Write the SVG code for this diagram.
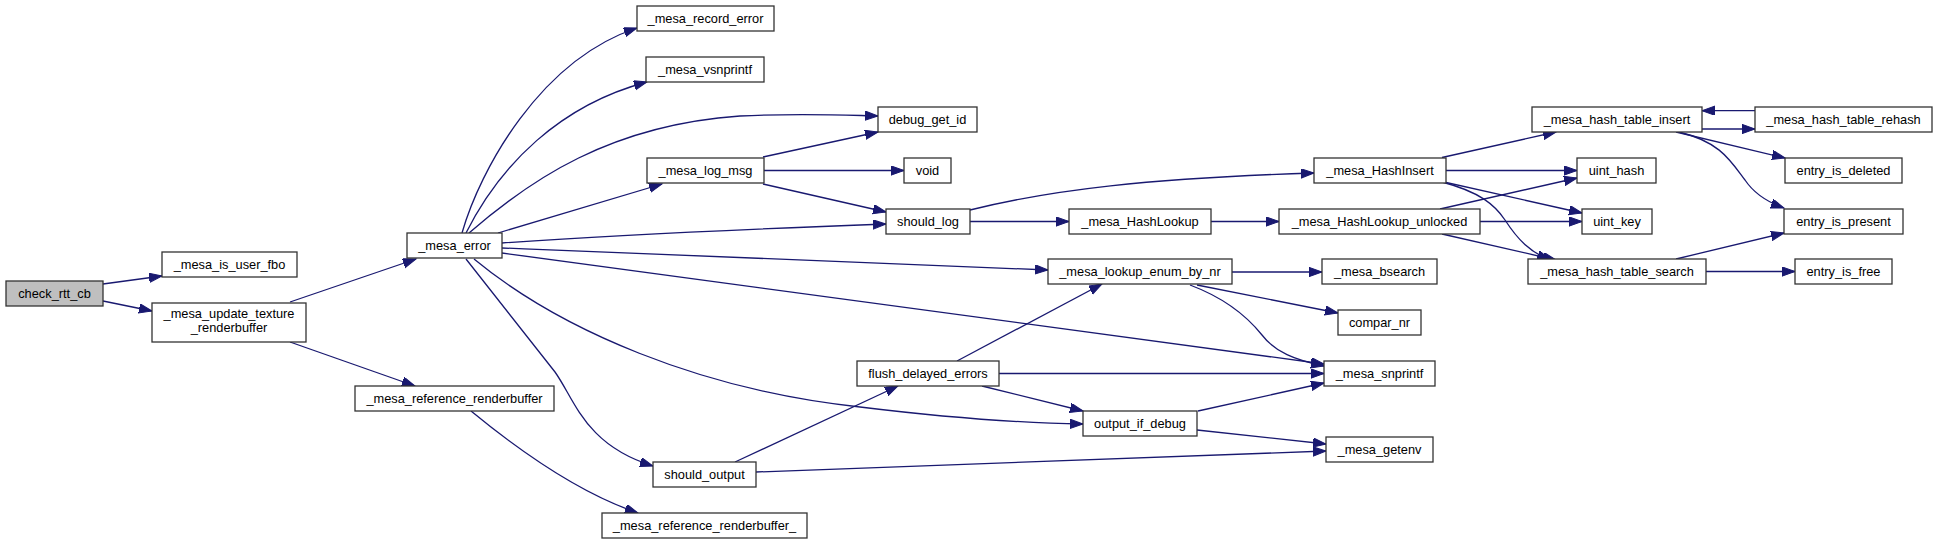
<svg xmlns="http://www.w3.org/2000/svg" width="1939" height="544" viewBox="0 0 1939 544">
<style>
.n rect{fill:#ffffff;stroke:#333333;stroke-width:1.3}
.n.root rect{fill:#bfbfbf}
.n text{font-family:"Liberation Sans",Arial,Helvetica,sans-serif;font-size:12.8px;fill:#000000;text-anchor:middle}
.e path{fill:none;stroke:#191970;stroke-width:1.3;marker-end:url(#arr)}
</style>
<defs>
<marker id="arr" markerUnits="userSpaceOnUse" markerWidth="15" markerHeight="11" refX="13" refY="4.65" orient="auto">
<path d="M0,0 L13,4.65 L0,9.3 Z" fill="#191970" stroke="#191970" stroke-width="1"/>
</marker>
</defs>
<rect width="1939" height="544" fill="#ffffff"/>
<g id="edges" class="e">
<path d="M103,284 L162,276"/>
<path d="M103,301 L152,311"/>
<path d="M290,302 L416,259"/>
<path d="M290,342 L415,386"/>
<path d="M471,411 C505,439 570,490 638,513"/>
<path d="M462,233 C480,170 540,60 637,28"/>
<path d="M466,233 C500,165 560,105 647,82"/>
<path d="M469,233 C530,180 610,125 740,116 C800,113 840,115 878,116"/>
<path d="M498,233 L662,184"/>
<path d="M502,243 C600,236 750,229 886,224"/>
<path d="M502,248 C700,255 900,263 1048,270"/>
<path d="M502,253 L1324,364"/>
<path d="M474,259 C560,330 700,390 860,407 C950,418 1020,423 1083,424"/>
<path d="M466,259 L555,372 C575,400 585,445 653,466"/>
<path d="M763,157 L878,132"/>
<path d="M764,170.5 L904,170.5"/>
<path d="M763,184 L886,212"/>
<path d="M970,210 C1050,190 1150,178 1314,173"/>
<path d="M970,221.5 L1069,221.5"/>
<path d="M1211,221.5 L1279,221.5"/>
<path d="M1440,209 L1577,178"/>
<path d="M1480,221.5 L1582,221.5"/>
<path d="M1442,234 L1556,260"/>
<path d="M1442,157.5 L1556,132"/>
<path d="M1446,170.5 L1577,170.5"/>
<path d="M1444,182 L1582,213"/>
<path d="M1442,182 C1480,192 1495,205 1505,220 C1518,240 1530,252 1550,260"/>
<path d="M1702,129 L1755,129"/>
<path d="M1755,110.7 L1702,110.7"/>
<path d="M1676,132 L1785,158"/>
<path d="M1679,132 C1720,142 1730,160 1745,180 C1755,195 1770,203 1784,208"/>
<path d="M1676,259 L1784,233"/>
<path d="M1706,271.5 L1795,271.5"/>
<path d="M1232,272 L1322,272"/>
<path d="M1197,285 L1338,313"/>
<path d="M1190,285 C1230,300 1250,320 1262,335 C1275,352 1295,360 1324,366"/>
<path d="M957,361 L1102,284"/>
<path d="M999,373.5 L1324,373.5"/>
<path d="M982,386 L1083,411"/>
<path d="M1198,411 L1324,383"/>
<path d="M1197,430 L1326,444"/>
<path d="M735,462 L898,386"/>
<path d="M756,472 L1326,451"/>
</g>
<g id="check_rtt_cb" class="n root"><rect x="6" y="281" width="97" height="25"/><text x="54.5" y="298">check_rtt_cb</text></g>
<g id="mesa_is_user_fbo" class="n"><rect x="162" y="252" width="135" height="25"/><text x="229.5" y="269">_mesa_is_user_fbo</text></g>
<g id="mesa_update_texture_renderbuffer" class="n"><rect x="152" y="303" width="154" height="39"/><text x="229" y="317.5">_mesa_update_texture</text><text x="229" y="331.5">_renderbuffer</text></g>
<g id="mesa_error" class="n"><rect x="407" y="233" width="95" height="25"/><text x="454.5" y="250">_mesa_error</text></g>
<g id="mesa_reference_renderbuffer" class="n"><rect x="355" y="386" width="199" height="25"/><text x="454.5" y="403">_mesa_reference_renderbuffer</text></g>
<g id="mesa_reference_renderbuffer_" class="n"><rect x="602" y="513" width="205" height="25"/><text x="704.5" y="530">_mesa_reference_renderbuffer_</text></g>
<g id="mesa_record_error" class="n"><rect x="637" y="6" width="137" height="25"/><text x="705.5" y="23">_mesa_record_error</text></g>
<g id="mesa_vsnprintf" class="n"><rect x="646" y="57" width="118" height="25"/><text x="705" y="74">_mesa_vsnprintf</text></g>
<g id="mesa_log_msg" class="n"><rect x="647" y="158" width="117" height="25"/><text x="705.5" y="175">_mesa_log_msg</text></g>
<g id="should_output" class="n"><rect x="653" y="462" width="103" height="25"/><text x="704.5" y="479">should_output</text></g>
<g id="debug_get_id" class="n"><rect x="878" y="107" width="99" height="25"/><text x="927.5" y="124">debug_get_id</text></g>
<g id="void" class="n"><rect x="904" y="158" width="47" height="25"/><text x="927.5" y="175">void</text></g>
<g id="should_log" class="n"><rect x="886" y="209" width="84" height="25"/><text x="928" y="226">should_log</text></g>
<g id="flush_delayed_errors" class="n"><rect x="857" y="361" width="142" height="25"/><text x="928" y="378">flush_delayed_errors</text></g>
<g id="output_if_debug" class="n"><rect x="1083" y="411" width="114" height="25"/><text x="1140" y="428">output_if_debug</text></g>
<g id="mesa_HashLookup" class="n"><rect x="1069" y="209" width="142" height="25"/><text x="1140" y="226">_mesa_HashLookup</text></g>
<g id="mesa_lookup_enum_by_nr" class="n"><rect x="1048" y="259" width="184" height="25"/><text x="1140" y="276">_mesa_lookup_enum_by_nr</text></g>
<g id="mesa_HashInsert" class="n"><rect x="1314" y="158" width="132" height="25"/><text x="1380" y="175">_mesa_HashInsert</text></g>
<g id="mesa_HashLookup_unlocked" class="n"><rect x="1279" y="209" width="201" height="25"/><text x="1379.5" y="226">_mesa_HashLookup_unlocked</text></g>
<g id="mesa_bsearch" class="n"><rect x="1322" y="259" width="115" height="25"/><text x="1379.5" y="276">_mesa_bsearch</text></g>
<g id="compar_nr" class="n"><rect x="1338" y="310" width="83" height="25"/><text x="1379.5" y="327">compar_nr</text></g>
<g id="mesa_snprintf" class="n"><rect x="1324" y="361" width="111" height="25"/><text x="1379.5" y="378">_mesa_snprintf</text></g>
<g id="mesa_getenv" class="n"><rect x="1326" y="437" width="107" height="25"/><text x="1379.5" y="454">_mesa_getenv</text></g>
<g id="mesa_hash_table_insert" class="n"><rect x="1532" y="107" width="170" height="25"/><text x="1617" y="124">_mesa_hash_table_insert</text></g>
<g id="mesa_hash_table_rehash" class="n"><rect x="1755" y="107" width="177" height="25"/><text x="1843.5" y="124">_mesa_hash_table_rehash</text></g>
<g id="uint_hash" class="n"><rect x="1577" y="158" width="79" height="25"/><text x="1616.5" y="175">uint_hash</text></g>
<g id="entry_is_deleted" class="n"><rect x="1785" y="158" width="117" height="25"/><text x="1843.5" y="175">entry_is_deleted</text></g>
<g id="uint_key" class="n"><rect x="1582" y="209" width="70" height="25"/><text x="1617" y="226">uint_key</text></g>
<g id="entry_is_present" class="n"><rect x="1784" y="209" width="119" height="25"/><text x="1843.5" y="226">entry_is_present</text></g>
<g id="mesa_hash_table_search" class="n"><rect x="1528" y="259" width="178" height="25"/><text x="1617" y="276">_mesa_hash_table_search</text></g>
<g id="entry_is_free" class="n"><rect x="1795" y="259" width="97" height="25"/><text x="1843.5" y="276">entry_is_free</text></g>
</svg>
